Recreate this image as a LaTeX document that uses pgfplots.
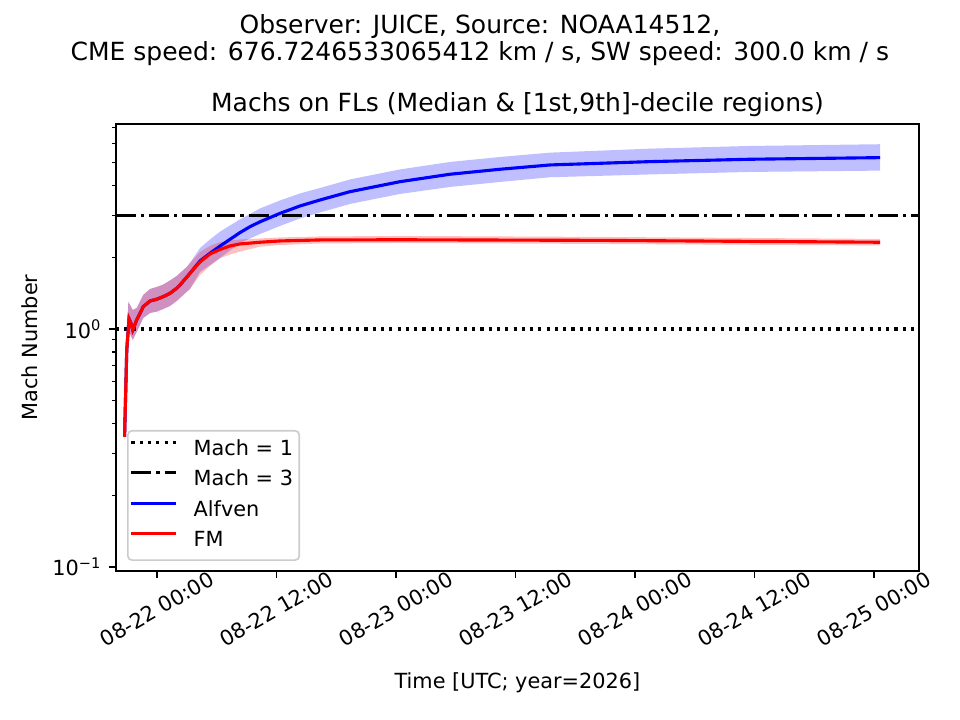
\documentclass[border=0pt]{standalone}
\usepackage{fontspec}
\setmainfont{DejaVu Sans}
\usepackage{pgfplots}
\pgfplotsset{compat=1.18}
\usepgfplotslibrary{fillbetween}
\begin{document}
\begin{tikzpicture}
\begin{axis}[
  at={(0pt,0pt)}, anchor=south west, scale only axis,
  width=385.4pt, height=214.6pt,
  ymode=log, xmin=-4.12, xmax=76.5, ymin=0.0962, ymax=7.27,
  axis line style={line width=0.8pt},
  tick align=outside, tick pos=left,
  major tick length=3.5pt, minor tick length=2pt,
  every major tick/.append style={line width=0.8pt, black},
  every minor tick/.append style={line width=0.6pt, black},
  xtick={0,12,24,36,48,60,72},
  xticklabels={08-22 00:00,08-22 12:00,08-23 00:00,08-23 12:00,08-24 00:00,08-24 12:00,08-25 00:00},
  ytick={0.1,1},
  yticklabels={10\textsuperscript{−1},10\textsuperscript{0}},
  minor ytick={0.2,0.3,0.4,0.5,0.6,0.7,0.8,0.9,2,3,4,5,6,7},
  tick label style={font=\fontsize{10}{12}\selectfont},
  xticklabel style={yshift=-14.8pt, rotate=30, anchor=center},
  yticklabel style={anchor=east},
  legend cell align=left,
  legend style={at={(axis description cs:0.0137,0.0224)}, anchor=south west,
    draw=black!20, line width=0.8pt, rounded corners=2pt, fill=white,
    font=\fontsize{10}{12}\selectfont, inner xsep=1pt, inner ysep=2.4pt,
    row sep=1.1pt, column sep=5.5pt,
    nodes={inner sep=2pt, text height=7.5pt, text depth=2pt}},
  legend image code/.code={\draw[#1] (0pt,3.6pt) -- (21.6pt,3.6pt);},
]
% ---- Alfven band (1st - 9th decile)
\addplot[name path=bu, draw=none, forget plot] coordinates {
(-3.26,0.362) (-3.04,0.899) (-2.88,1.302) (-2.44,1.202) (-2.04,1.225) (-1.38,1.390)
(-0.70,1.473) (-0.03,1.501) (0.63,1.538) (1.31,1.599) (1.98,1.670) (2.98,1.822)
(3.31,1.894) (4.32,2.189) (5.32,2.377) (6.33,2.564) (7.33,2.722) (8.33,2.885)
(10.34,3.209) (12.35,3.467) (14.36,3.710) (16.37,3.912) (19.38,4.248) (24.40,4.680)
(29.42,5.030) (34.44,5.279) (39.47,5.505) (49.51,5.722) (59.55,5.873) (72.6,5.972)};
\addplot[name path=bl, draw=none, forget plot] coordinates {
(-3.26,0.342) (-3.04,0.727) (-2.88,0.990) (-2.44,0.899) (-2.04,0.971) (-1.38,1.112)
(-0.70,1.167) (-0.03,1.182) (0.63,1.213) (1.31,1.249) (1.98,1.311) (2.98,1.431)
(3.31,1.473) (4.32,1.736) (5.32,1.857) (6.33,1.988) (7.33,2.137) (8.33,2.298)
(10.34,2.507) (12.35,2.709) (14.36,2.913) (16.37,3.087) (19.38,3.352) (24.40,3.692)
(29.42,3.951) (34.44,4.146) (39.47,4.339) (49.51,4.459) (59.55,4.568) (72.6,4.626)};
\addplot[fill=blue, fill opacity=0.25, draw=none, forget plot] fill between[of=bu and bl];
% ---- FM band
\addplot[name path=ru, draw=none, forget plot] coordinates {
(-3.26,0.362) (-3.04,0.899) (-2.88,1.302) (-2.44,1.202) (-2.04,1.225) (-1.38,1.390)
(-0.70,1.473) (-0.03,1.501) (0.63,1.538) (1.31,1.599) (1.98,1.670) (2.98,1.822)
(3.31,1.894) (4.32,2.106) (5.32,2.232) (6.33,2.320) (7.33,2.354) (8.33,2.377)
(10.34,2.400) (12.35,2.424) (16.37,2.447) (24.4,2.459) (44.5,2.436) (72.6,2.389)};
\addplot[name path=rl, draw=none, forget plot] coordinates {
(-3.26,0.342) (-3.04,0.727) (-2.88,0.990) (-2.44,0.899) (-2.04,0.971) (-1.38,1.112)
(-0.70,1.167) (-0.03,1.182) (0.63,1.213) (1.31,1.249) (1.98,1.311) (2.98,1.431)
(3.31,1.473) (4.32,1.686) (5.32,1.839) (6.33,1.982) (7.33,2.056) (8.33,2.113)
(10.34,2.217) (12.35,2.253) (16.37,2.287) (24.4,2.298) (44.5,2.276) (72.6,2.243)};
\addplot[fill=red, fill opacity=0.25, draw=none, forget plot] fill between[of=ru and rl];
% ---- reference lines
\addplot[black, line width=1.5pt, dash pattern=on 1.5pt off 2.475pt] coordinates {(-4.12,1) (76.5,1)};
\addlegendentry{Mach = 1}
\addplot[black, line width=1.5pt, dash pattern=on 9.6pt off 2.4pt on 1.5pt off 2.4pt] coordinates {(-4.12,3) (76.5,3)};
\addlegendentry{Mach = 3}
% ---- medians
\addplot[blue, line width=1.5pt] coordinates {
(-3.26,0.352) (-3.04,0.816) (-2.81,1.102) (-2.63,1.06) (-2.44,0.990) (-2.04,1.091)
(-1.38,1.241) (-0.70,1.311) (-0.03,1.333) (0.63,1.367) (1.31,1.413) (1.98,1.483)
(2.31,1.531) (2.98,1.650) (3.31,1.714) (4.32,1.931) (5.32,2.080) (6.33,2.230)
(7.33,2.380) (8.33,2.540) (9.34,2.690) (10.34,2.820) (12.35,3.060) (14.36,3.287)
(16.37,3.483) (19.38,3.775) (24.40,4.157) (29.42,4.467) (34.44,4.688) (39.47,4.887)
(49.51,5.047) (59.55,5.164) (72.6,5.245)};
\addlegendentry{Alfven}
\addplot[red, line width=1.5pt] coordinates {
(-3.26,0.352) (-3.04,0.816) (-2.81,1.102) (-2.63,1.06) (-2.44,0.990) (-2.04,1.091)
(-1.38,1.241) (-0.70,1.311) (-0.03,1.333) (0.63,1.367) (1.31,1.413) (1.98,1.483)
(2.31,1.531) (2.98,1.650) (3.31,1.714) (4.32,1.912) (5.32,2.066) (6.33,2.158)
(7.33,2.232) (8.33,2.276) (10.34,2.314) (12.35,2.343) (16.37,2.366) (24.40,2.370)
(44.5,2.356) (72.6,2.314)};
\addlegendentry{FM}
\end{axis}
\node[anchor=base, font=\fontsize{12}{14.4}\selectfont] at (174.7pt,258.1pt) {Observer: JUICE, Source: NOAA14512,};
\node[anchor=base, font=\fontsize{12}{14.4}\selectfont] at (174.7pt,244.8pt) {CME speed: 676.7246533065412 km / s, SW speed: 300.0 km / s};
\node[anchor=base, font=\fontsize{12}{14.4}\selectfont] at (192.7pt,220.5pt) {Machs on FLs (Median \& [1st,9th]-decile regions)};
\node[anchor=base, font=\fontsize{10}{12}\selectfont] at (192.7pt,-56.6pt) {Time [UTC; year=2026]};
\node[rotate=90, anchor=center, inner sep=0pt, font=\fontsize{10}{12}\selectfont] at (-41.3pt,107.3pt) {Mach Number};
\pgfresetboundingbox
\path[use as bounding box] (-55.68pt,-71.52pt) rectangle (405.12pt,274.08pt);
\end{tikzpicture}
\end{document}
